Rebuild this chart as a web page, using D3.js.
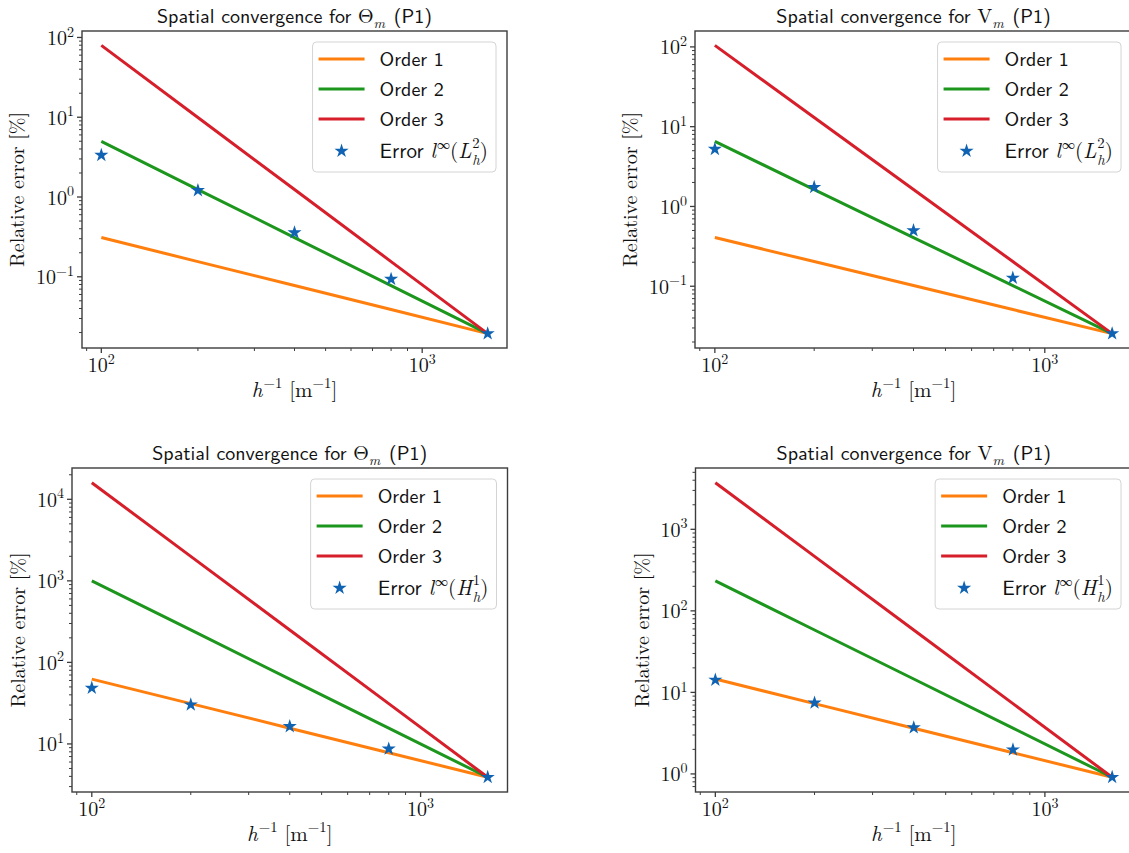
<!DOCTYPE html>
<html>
<head>
<meta charset="utf-8">
<script src="https://cdn.jsdelivr.net/npm/d3@7"></script>
<style>
  body { margin: 0; background: #fff; }
  svg text { white-space: pre; }
</style>
</head>
<body>
<div id="chart"></div>
<script>
/*
 * spatial convergence, 2x2 log-log panels
 */

var SANS = "'Latin Modern Sans', 'LM Sans 10', Lato, 'Noto Sans', sans-serif";
var SERIF = "'Latin Modern Roman', 'LM Roman 10', 'Liberation Serif', serif";
var INK = "#111";
var SPINE = "#3c3c3c";

// mesh refinement h^-1 [m^-1]
var hInv = [100, 200, 400, 800, 1600];

var seriesNames = ["Order 1", "Order 2", "Order 3"];
var seriesColors = ["#ff7f0e", "#1c961c", "#d61f2a"];
var starColor = "#0f63b2";

// Theta_m, l_inf(L2)
var thetaL2Order1 = [0.31, 0.155, 0.0776, 0.0388, 0.0194];
var thetaL2Order2 = [4.97, 1.24, 0.31, 0.0776, 0.0194];
var thetaL2Order3 = [79.5, 9.93, 1.24, 0.155, 0.0194];
var thetaL2Err = [3.35, 1.21, 0.358, 0.0935, 0.0194];

// V_m, l_inf(L2)
var vL2Order1 = [0.408, 0.204, 0.102, 0.051, 0.0255];
var vL2Order2 = [6.53, 1.63, 0.408, 0.102, 0.0255];
var vL2Order3 = [104.4, 13.06, 1.63, 0.204, 0.0255];
var vL2Err = [5.23, 1.74, 0.499, 0.127, 0.0255];

// Theta_m, l_inf(H1)
var thetaH1Order1 = [62.4, 31.2, 15.6, 7.8, 3.9];
var thetaH1Order2 = [998, 250, 62.4, 15.6, 3.9];
var thetaH1Order3 = [15974, 1997, 250, 31.2, 3.9];
var thetaH1Err = [48.5, 30.3, 16.4, 8.7, 3.9];

// V_m, l_inf(H1)
var vH1Order1 = [14.6, 7.28, 3.64, 1.82, 0.91];
var vH1Order2 = [233, 58.2, 14.6, 3.64, 0.91];
var vH1Order3 = [3727, 466, 58.2, 7.28, 0.91];
var vH1Err = [14.2, 7.45, 3.7, 1.98, 0.91];

var panelQty = ["Θ", "V", "Θ", "V"];
var panelNorm = ["L", "L", "H", "H"];
var panelNormExp = ["2", "2", "1", "1"];
var panelOrders = [
	[thetaL2Order1, thetaL2Order2, thetaL2Order3],
	[vL2Order1, vL2Order2, vL2Order3],
	[thetaH1Order1, thetaH1Order2, thetaH1Order3],
	[vH1Order1, vH1Order2, vH1Order3]
];
var panelErrors = [thetaL2Err, vL2Err, thetaH1Err, vH1Err];

// axes boxes [left, top, right, bottom]
var boxes = [
	[82, 31, 507, 348],
	[695, 31, 1132, 348],
	[72, 468, 507.5, 792],
	[695.5, 468, 1132, 792]
];

var svg = d3.select("#chart").append("svg")
	.attr("width", 1129)
	.attr("height", 853);

// lay out a row of text runs (sub/superscripts, mixed fonts) and anchor it
function mathText(parent, parts, size, x, y, anchor) {
	var g = parent.append("g");
	var cx = 0, pend = 0;
	parts.forEach(function(p) {
		var small = p.sup || p.sub;
		var fs = small ? size * (p.scale || 0.7) : size;
		var dy = p.sup ? -size * (p.stack ? 0.48 : 0.42) : (p.sub ? size * (p.low || 0.25) : 0);
		var t = g.append("text")
			.attr("x", cx)
			.attr("y", dy)
			.style("font-family", p.sans ? SANS : SERIF)
			.style("font-style", p.it ? "italic" : "normal")
			.style("font-size", fs + "px")
			.style("fill", INK)
			.text(p.t);
		var w = t.node().getComputedTextLength();
		if (p.stack) {
			pend = w;
		}
		else {
			cx += Math.max(w, pend) + (p.pad || 0);
			pend = 0;
		}
	});
	var shift = 0;
	if (anchor == "middle") shift = cx / 2;
	if (anchor == "end") shift = cx;
	g.attr("transform", "translate(" + (x - shift) + "," + y + ")");
	return cx;
}

function drawPanel(i) {
	var b = boxes[i];
	var orders = panelOrders[i];
	var errs = panelErrors[i];
	var g = svg.append("g");

	var all = d3.merge(orders.concat([errs]));
	var lx = d3.extent(hInv).map(Math.log10);
	var ly = d3.extent(all).map(Math.log10);
	var mx = (lx[1] - lx[0]) * 0.05;
	var my = (ly[1] - ly[0]) * 0.05;

	var x = d3.scaleLog()
		.domain([Math.pow(10, lx[0] - mx), Math.pow(10, lx[1] + mx)])
		.range([b[0], b[2]]);
	var y = d3.scaleLog()
		.domain([Math.pow(10, ly[0] - my), Math.pow(10, ly[1] + my)])
		.range([b[3], b[1]]);

	function isMajor(v) {
		return Math.abs(Math.log10(v) - Math.round(Math.log10(v))) < 1e-9;
	}
	var xt = x.ticks().filter(function(v) { return v >= x.domain()[0] && v <= x.domain()[1]; });
	var yt = y.ticks().filter(function(v) { return v >= y.domain()[0] && v <= y.domain()[1]; });

	// tick marks (outward)
	xt.forEach(function(v) {
		var len = isMajor(v) ? 5 : 3;
		g.append("line")
			.attr("x1", x(v)).attr("x2", x(v))
			.attr("y1", b[3]).attr("y2", b[3] + len)
			.attr("stroke", SPINE).attr("stroke-width", isMajor(v) ? 1.3 : 1);
		if (isMajor(v)) {
			mathText(g, [{t: "10"}, {t: String(Math.round(Math.log10(v))), sup: true}],
				20, x(v), b[3] + 24, "middle");
		}
	});
	var labLeft = b[0];
	yt.forEach(function(v) {
		var len = isMajor(v) ? 5 : 3;
		g.append("line")
			.attr("x1", b[0] - len).attr("x2", b[0])
			.attr("y1", y(v)).attr("y2", y(v))
			.attr("stroke", SPINE).attr("stroke-width", isMajor(v) ? 1.3 : 1);
		if (isMajor(v)) {
			var e = Math.round(Math.log10(v));
			var w = mathText(g, [{t: "10"}, {t: (e < 0 ? "\u2212" + (-e) : String(e)), sup: true}],
				20, b[0] - 8, y(v) + 7.5, "end");
			labLeft = Math.min(labLeft, b[0] - 8 - w);
		}
	});

	// order lines
	var line = d3.line()
		.x(function(d, k) { return x(hInv[k]); })
		.y(function(d) { return y(d); });
	orders.forEach(function(s, k) {
		g.append("path")
			.datum(s)
			.attr("d", line)
			.attr("fill", "none")
			.attr("stroke", seriesColors[k])
			.attr("stroke-width", 3);
	});

	// error stars
	var star = d3.symbol().type(d3.symbolStar).size(62);
	g.selectAll(".err")
		.data(errs)
		.enter()
		.append("path")
		.attr("class", "err")
		.attr("d", star)
		.attr("transform", function(d, k) { return "translate(" + x(hInv[k]) + "," + y(d) + ")"; })
		.attr("fill", starColor);

	// frame
	g.append("rect")
		.attr("x", b[0]).attr("y", b[1])
		.attr("width", b[2] - b[0]).attr("height", b[3] - b[1])
		.attr("fill", "none")
		.attr("stroke", SPINE)
		.attr("stroke-width", 1.4);

	// title
	var cxm = (b[0] + b[2]) / 2;
	mathText(g, [
		{t: "Spatial convergence for ", sans: true},
		{t: panelQty[i]},
		{t: "m", it: true, sub: true, pad: 2},
		{t: " (P1)", sans: true}
	], 20, cxm, b[1] - 8, "middle");

	// axis labels
	mathText(g, [
		{t: "h", it: true, pad: 1}, {t: "\u22121", sup: true},
		{t: " [m"}, {t: "\u22121", sup: true}, {t: "]"}
	], 21, cxm, b[3] + 49, "middle");

	g.append("text")
		.attr("transform", "translate(" + (labLeft - 12) + "," + ((b[1] + b[3]) / 2) + ") rotate(-90)")
		.attr("text-anchor", "middle")
		.style("font-family", SERIF)
		.style("font-size", "20px")
		.style("fill", INK)
		.text("Relative error [%]");

	// legend
	var lg = g.append("g");
	var frame = lg.append("rect");
	var rows = [17, 47, 77, 109];
	var textX = 67;
	var maxW = 0;
	seriesNames.forEach(function(n, k) {
		lg.append("line")
			.attr("x1", 6).attr("x2", 52)
			.attr("y1", rows[k]).attr("y2", rows[k])
			.attr("stroke", seriesColors[k])
			.attr("stroke-width", 3);
		maxW = Math.max(maxW, mathText(lg, [{t: n, sans: true}], 20, textX, rows[k] + 7, "start"));
	});
	lg.append("path")
		.attr("d", star)
		.attr("transform", "translate(29," + rows[3] + ")")
		.attr("fill", starColor);
	maxW = Math.max(maxW, mathText(lg, [
		{t: "Error ", sans: true},
		{t: "l", it: true, pad: 1}, {t: "\u221E", sup: true, scale: 0.62},
		{t: "("}, {t: panelNorm[i], it: true, pad: 1},
		{t: panelNormExp[i], sup: true, stack: true},
		{t: "h", it: true, sub: true, low: 0.32},
		{t: ")"}
	], 21, textX, rows[3] + 7, "start"));
	var lw = textX + maxW + 8;
	frame
		.attr("x", 0).attr("y", 0)
		.attr("width", lw).attr("height", 130)
		.attr("rx", 4)
		.attr("fill", "#fff").attr("fill-opacity", 0.8)
		.attr("stroke", "#d4d4d4").attr("stroke-width", 1);
	lg.attr("transform", "translate(" + (b[2] - 11 - lw) + "," + (b[1] + 11) + ")");
}

for (var i = 0; i < 4; i++) {
	drawPanel(i);
}
</script>
</body>
</html>
